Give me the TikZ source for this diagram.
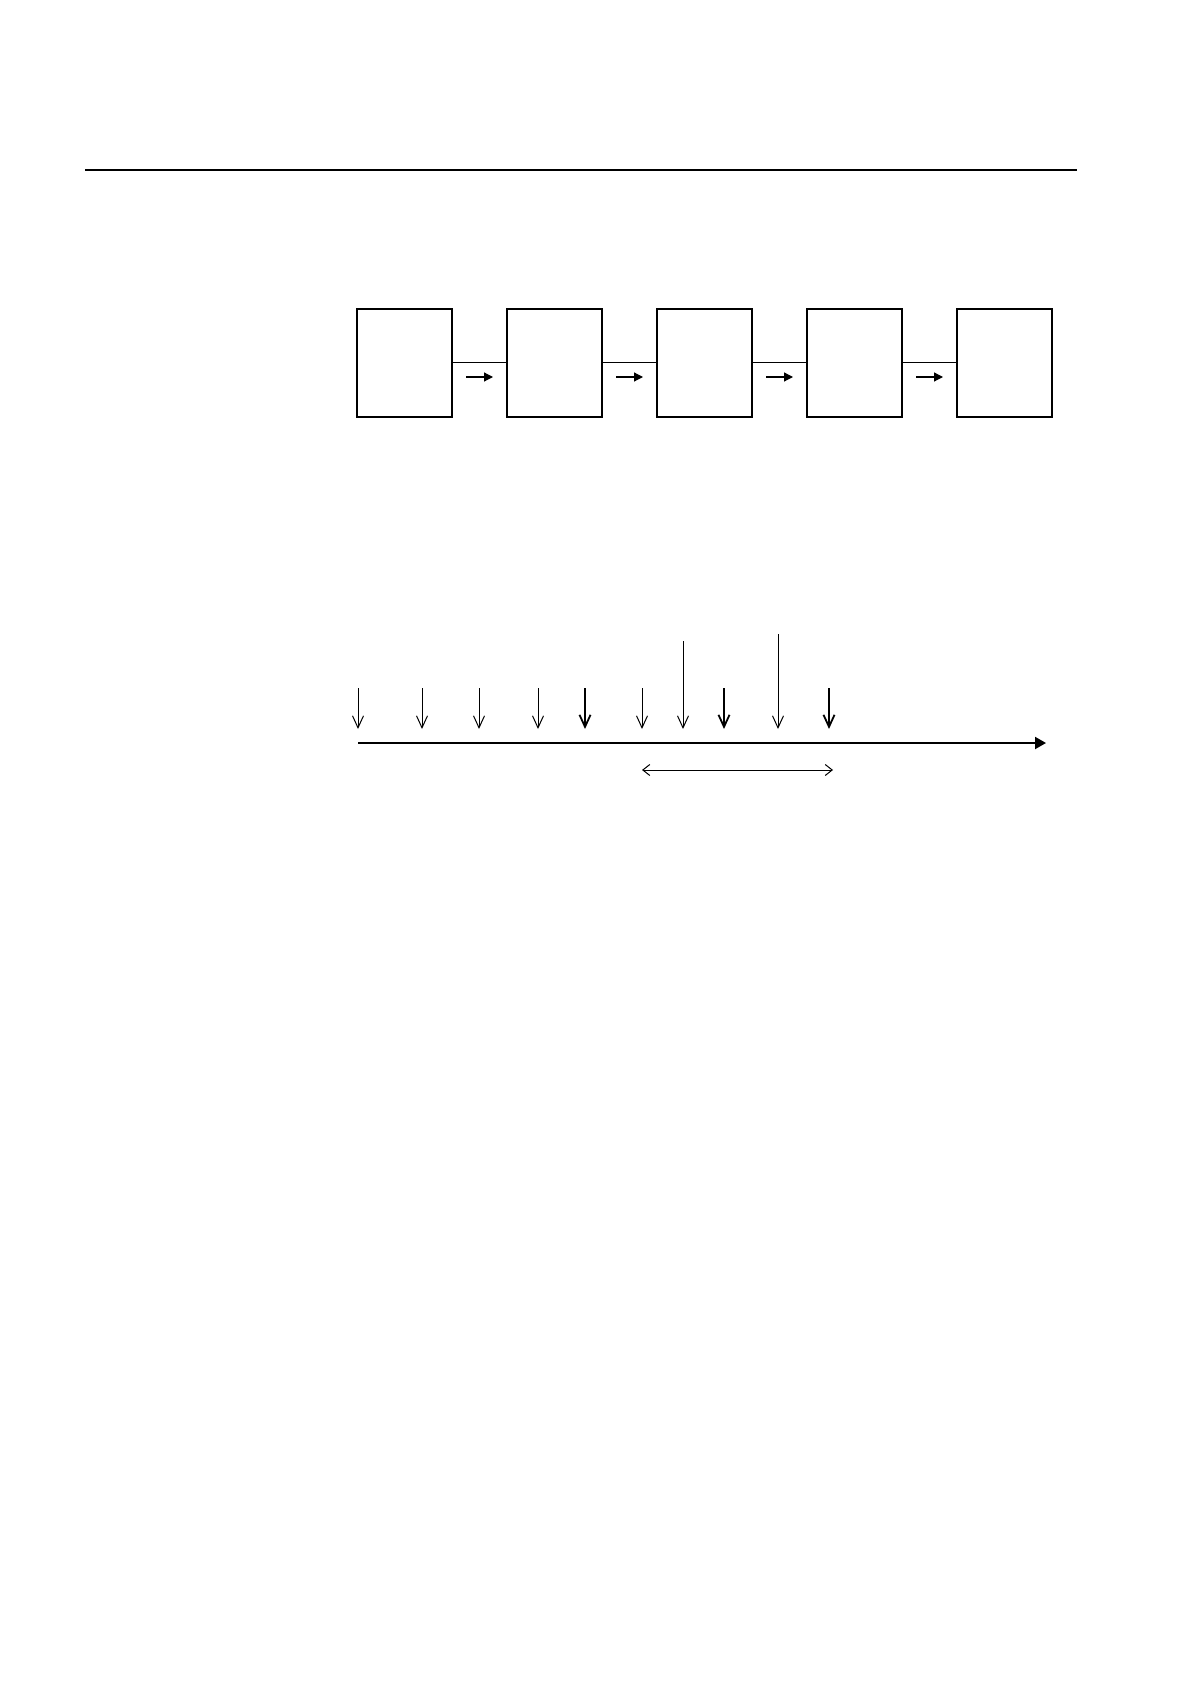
\documentclass[tikz,border=0pt]{standalone}
\usetikzlibrary{arrows.meta,positioning,calc}
\tikzset{
	stage/.style={draw, line width=0.6pt, minimum width=47.5pt, minimum height=54pt, inner sep=0pt, outer sep=0pt},
	flow/.style={line width=0.6pt, -{Triangle[length=4.5pt,width=4.5pt]}},
	event/.style={-{Straight Barb[length=6pt,width=5.5pt]}},
	span/.style={line width=0.5pt, {Straight Barb[length=3.5pt,width=5.5pt]}-{Straight Barb[length=3.5pt,width=5.5pt]}},
}
\begin{document}
\begin{tikzpicture}[x=0.5pt, y=-0.5pt]
	\useasboundingbox (0, 0) rectangle (1191, 1684);
	% page rule
	\coordinate (ruleL) at (85, 170);
	\coordinate (ruleR) at (1077, 170);
	\draw[line width=0.7pt] (ruleL) -- (ruleR);
	% chain of stages
	\node[stage] at (404.5, 363) (b1) {};
	\node[stage, right=27.5pt of b1] (b2) {};
	\node[stage, right=27.5pt of b2] (b3) {};
	\node[stage, right=27.5pt of b3] (b4) {};
	\node[stage, right=27.5pt of b4] (b5) {};
	\foreach \a/\b in {b1/b2, b2/b3, b3/b4, b4/b5} {
		\draw[line width=0.5pt] (\a.east) -- (\b.west);
		\coordinate (\a s) at ($(\a.east)+(14, 14)$);
		\coordinate (\a e) at ($(\b.west)+(-14, 14)$);
		\draw[flow] (\a s) -- (\a e);
	}
	% time axis
	\coordinate (t0) at (358, 743);
	\coordinate (t1) at (1046, 743);
	\draw[line width=1pt, -{Triangle[length=5.5pt,width=6pt]}] (t0) -- (t1);
	\foreach \x/\top/\w [count=\i] in {358/688/0.5pt, 422/688/0.5pt, 479/688/0.5pt, 538/688/0.5pt, 585/688/0.9pt, 642/688/0.5pt, 683/641/0.5pt, 724/688/0.9pt, 778/634/0.5pt, 829/688/0.9pt} {
		\coordinate (e\i) at (\x, \top);
		\coordinate (f\i) at (\x, 729);
		\draw[event, line width=\w] (e\i) -- (f\i);
	}
	\coordinate (w0) at (642, 770);
	\coordinate (w1) at (833, 770);
	\draw[span] (w0) -- (w1);
\end{tikzpicture}
\end{document}
